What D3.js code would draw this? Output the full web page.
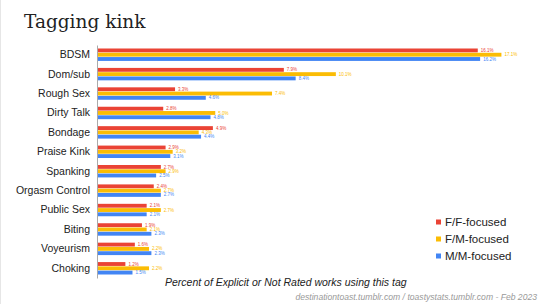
<!DOCTYPE html>
<html>
<head>
<meta charset="utf-8">
<script src="https://cdn.jsdelivr.net/npm/d3@7"></script>
<style>
  body { margin: 0; background: #fff; }
  svg { display: block; }
</style>
</head>
<body>
<div id="chart"></div>
<script>
var categories = ["BDSM", "Dom/sub", "Rough Sex", "Dirty Talk", "Bondage", "Praise Kink",
    "Spanking", "Orgasm Control", "Public Sex", "Biting", "Voyeurism", "Choking"];
var seriesNames = ["F/F-focused", "F/M-focused", "M/M-focused"];
var ffValues = [16.1, 7.9, 3.3, 2.8, 4.9, 2.9, 2.7, 2.4, 2.1, 1.9, 1.6, 1.2];
var fmValues = [17.1, 10.1, 7.4, 5.0, 4.3, 3.2, 2.9, 2.7, 2.7, 2.1, 2.2, 2.2];
var mmValues = [16.2, 8.4, 4.6, 4.8, 4.4, 3.1, 2.5, 2.7, 2.1, 2.3, 2.3, 1.5];
var colors = ["#ea4335", "#fbbc04", "#4285f4"];

var width = 540, height = 304;
var svg = d3.select("#chart").append("svg")
    .attr("width", width)
    .attr("height", height);

// faint frame line on the left like the slide
svg.append("line")
    .attr("x1", 0.5).attr("x2", 0.5).attr("y1", 0).attr("y2", height)
    .style("stroke", "#e6e6e6");

svg.append("text")
    .attr("x", 24).attr("y", 27.5)
    .style("font-family", "'DejaVu Serif', serif")
    .style("font-size", "18.5px")
    .style("fill", "#222")
    .text("Tagging kink");

var series = [ffValues, fmValues, mmValues];

var x = d3.scaleLinear().domain([0, 18]).range([97, 97 + 18 * 23.65]);
var y0 = d3.scaleBand().domain(categories).range([45, 278]).paddingInner(0.36).paddingOuter(0.18);
var y1 = d3.scaleBand().domain(d3.range(3)).range([0, y0.bandwidth()]).paddingInner(0.1);

var groups = svg.selectAll(".group")
    .data(categories)
    .enter().append("g")
    .attr("class", "group")
    .attr("transform", function(d) { return "translate(0," + y0(d) + ")"; });

groups.selectAll("rect")
    .data(function(d, i) { return series.map(function(s, k) { return {k: k, v: s[i]}; }); })
    .enter().append("rect")
    .attr("x", x(0))
    .attr("y", function(d) { return y1(d.k); })
    .attr("height", y1.bandwidth())
    .attr("width", function(d) { return x(d.v) - x(0); })
    .style("fill", function(d) { return colors[d.k]; });

groups.selectAll(".vlabel")
    .data(function(d, i) { return series.map(function(s, k) { return {k: k, v: s[i]}; }); })
    .enter().append("text")
    .attr("class", "vlabel")
    .attr("x", function(d) { return x(d.v) + 3; })
    .attr("y", function(d) { return y1(d.k) + y1.bandwidth() / 2; })
    .attr("dy", "0.35em")
    .style("font-family", "'Liberation Sans', Arial, sans-serif")
    .style("font-size", "4.5px")
    .style("fill", function(d) { return colors[d.k]; })
    .text(function(d) { return d.v.toFixed(1) + "%"; });

// category axis
var yAxis = d3.axisLeft(y0).tickSize(0).tickPadding(7);
var ax = svg.append("g")
    .attr("transform", "translate(" + x(0) + ",0)")
    .call(yAxis);
ax.select(".domain").style("stroke", "#aaa");
ax.selectAll("text")
    .style("font-family", "'Liberation Sans', Arial, sans-serif")
    .style("font-size", "10.5px")
    .style("fill", "#222");

// legend
var legend = svg.selectAll(".legend")
    .data(seriesNames)
    .enter().append("g")
    .attr("class", "legend")
    .attr("transform", function(d, i) { return "translate(436," + (222 + i * 17) + ")"; });
legend.append("rect")
    .attr("x", 0).attr("y", -2.5).attr("width", 5).attr("height", 5)
    .style("fill", function(d, i) { return colors[i]; });
legend.append("text")
    .attr("x", 9).attr("dy", "0.35em")
    .style("font-family", "'Liberation Sans', Arial, sans-serif")
    .style("font-size", "11.5px")
    .style("fill", "#222")
    .text(function(d) { return d; });

svg.append("text")
    .attr("x", 165).attr("y", 286)
    .style("font-family", "'Liberation Sans', Arial, sans-serif")
    .style("font-size", "10.5px")
    .style("font-style", "italic")
    .style("fill", "#222")
    .text("Percent of Explicit or Not Rated works using this tag");

svg.append("text")
    .attr("x", 537).attr("y", 299.5)
    .attr("text-anchor", "end")
    .style("font-family", "'Liberation Sans', Arial, sans-serif")
    .style("font-size", "8.6px")
    .style("font-style", "italic")
    .style("fill", "#999")
    .text("destinationtoast.tumblr.com / toastystats.tumblr.com - Feb 2023");
</script>
</body>
</html>
